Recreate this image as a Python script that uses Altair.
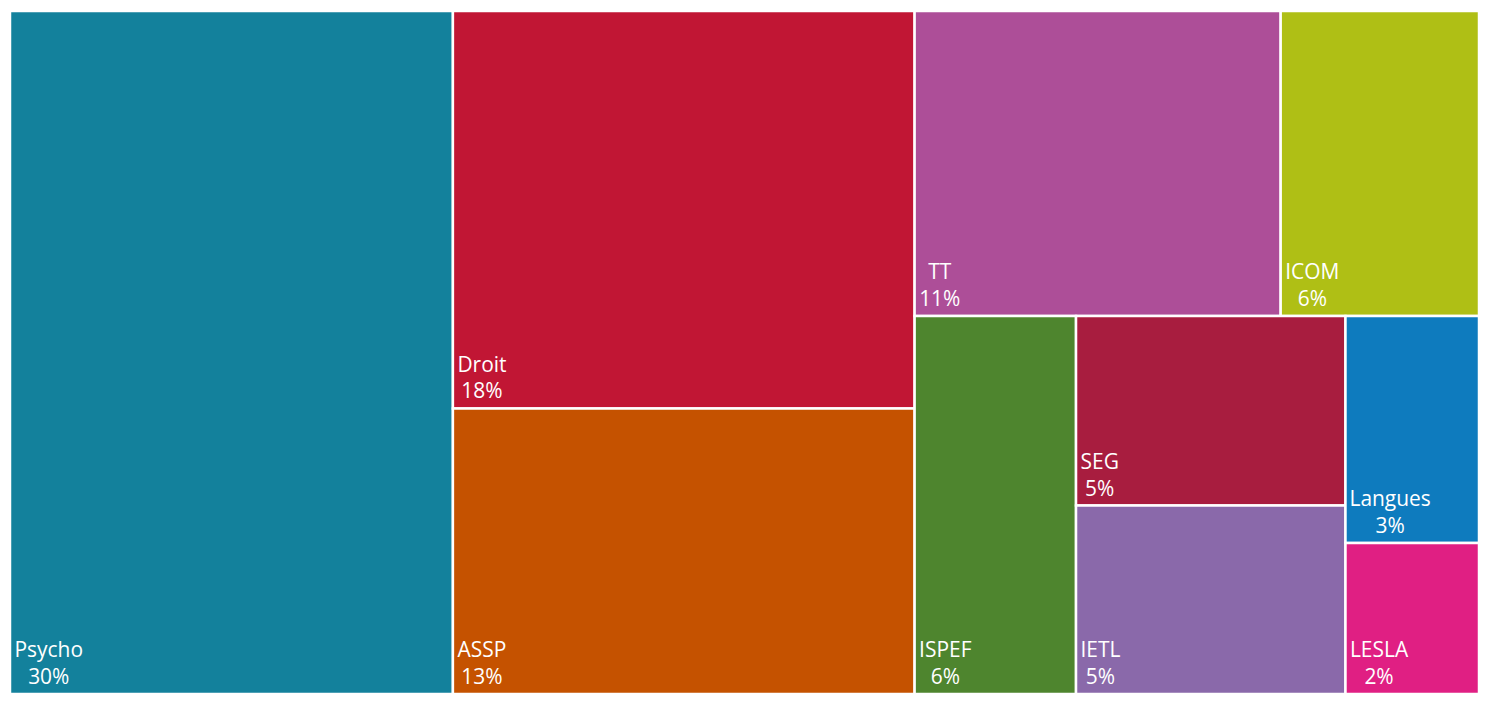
import altair as alt
import pandas as pd

# ---- data ----
names = ["Psycho", "Droit", "ASSP", "TT", "ICOM", "ISPEF", "SEG", "IETL", "Langues", "LESLA"]
values = [30.15, 18.29, 13.14, 11.13, 6.03, 6.08, 5.09, 5.06, 3.02, 2.01]
colors = ["#13819C", "#C11634", "#C55200", "#AD4E98", "#AFBF15",
          "#4E852E", "#A81D3F", "#8A69AA", "#0E7BBE", "#E01F83"]

# treemap strips (orientation, members) as laid out in the reference
strips = [("col", [0]), ("col", [1, 2]), ("row", [3, 4]),
          ("col", [5]), ("col", [6, 7]), ("col", [8, 9])]

# ---- chart geometry / style ----
CW, CH = 1473, 685          # plot size in px
UW, UH = 1489.0, 701.0      # layout units (aspect of the canvas)
FONT = "Open Sans"
FS = 21
PAD = 4.5

# approximate Open Sans advance widths (em)
EM = {"A": .633, "B": .648, "C": .631, "D": .729, "E": .556, "F": .516, "G": .728,
      "H": .738, "I": .279, "L": .519, "M": .907, "O": .779, "P": .603, "S": .549,
      "T": .553, "a": .556, "c": .479, "e": .561, "g": .495, "h": .613, "i": .258,
      "n": .613, "o": .601, "r": .408, "s": .479, "t": .352, "u": .613, "y": .500,
      "%": .832}


def text_w(s):
    return sum(EM.get(ch, .571) for ch in s) * FS


def layout():
    x0, y0, x1, y1 = 0.0, 0.0, UW, UH
    remaining = sum(values)
    rects = {}
    for orient, idx in strips:
        s = sum(values[i] for i in idx)
        if orient == "col":
            w = (x1 - x0) * s / remaining
            yy = y0
            for i in idx:
                h = (y1 - y0) * values[i] / s
                rects[i] = (x0, yy, x0 + w, yy + h)
                yy += h
            x0 += w
        else:
            h = (y1 - y0) * s / remaining
            xx = x0
            for i in idx:
                w = (x1 - x0) * values[i] / s
                rects[i] = (xx, y0, xx + w, y0 + h)
                xx += w
            y0 += h
        remaining -= s
    return rects


rects = layout()
rows = []
for i, n in enumerate(names):
    a, b, c, d = rects[i]
    pct = f"{round(values[i])}%"
    block = max(text_w(n), text_w(pct))
    lx = a + (PAD + block / 2) * UW / CW
    rows.append(dict(name=n, pct=pct, x0=a, y0=b, x1=c, y1=d, lx=lx))
df = pd.DataFrame(rows)

xs = alt.Scale(domain=[0, UW], nice=False, zero=False)
ys = alt.Scale(domain=[0, UH], nice=False, zero=False, reverse=True)

base = alt.Chart(df)
cells = base.mark_rect(stroke="white", strokeWidth=2.5).encode(
    x=alt.X("x0:Q", scale=xs, axis=None),
    x2="x1:Q",
    y=alt.Y("y0:Q", scale=ys, axis=None),
    y2="y1:Q",
    color=alt.Color("name:N", scale=alt.Scale(domain=names, range=colors), legend=None),
)
name_txt = base.mark_text(align="center", baseline="alphabetic", dy=-37,
                          font=FONT, fontSize=FS, color="white").encode(
    x=alt.X("lx:Q", scale=xs, axis=None),
    y=alt.Y("y1:Q", scale=ys, axis=None),
    text="name:N",
)
pct_txt = base.mark_text(align="center", baseline="alphabetic", dy=-10,
                         font=FONT, fontSize=FS, color="white").encode(
    x=alt.X("lx:Q", scale=xs, axis=None),
    y=alt.Y("y1:Q", scale=ys, axis=None),
    text="pct:N",
)

chart = alt.layer(cells, name_txt, pct_txt).properties(
    width=CW, height=CH, padding=0
).configure_view(stroke=None)

chart.save("out.html", embed_options={"renderer": "svg", "actions": False})
